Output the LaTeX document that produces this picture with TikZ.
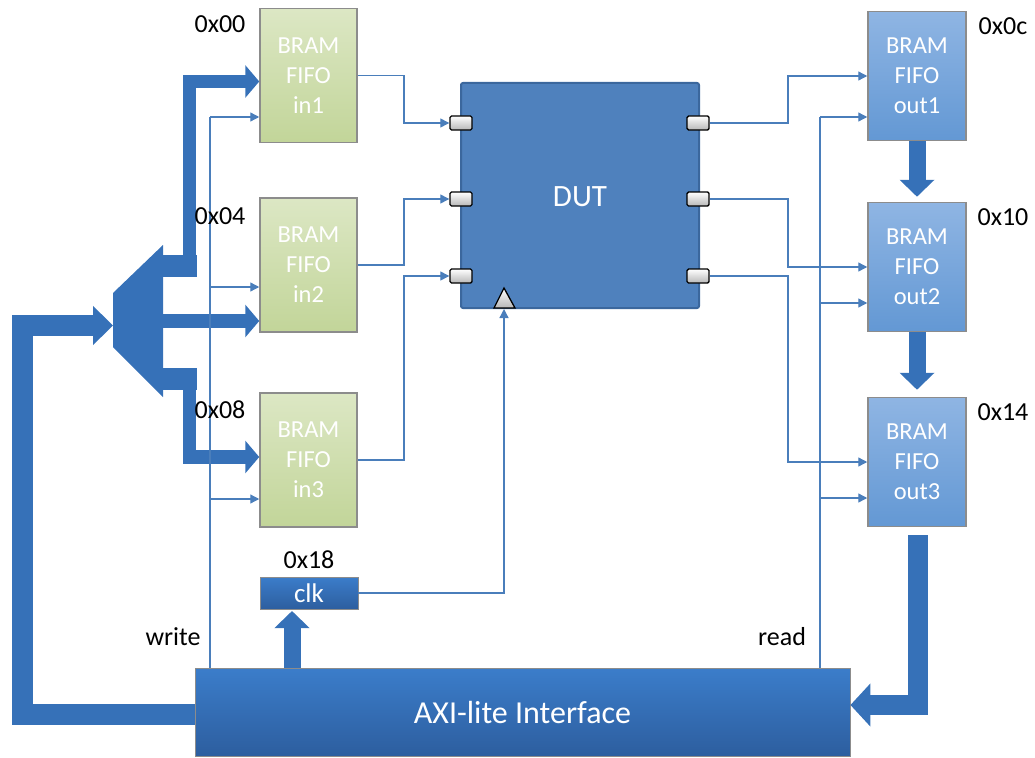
\documentclass[tikz,border=0pt]{standalone}
\usepackage{fontspec}
\setmainfont{Carlito}
\usetikzlibrary{arrows.meta,calc}
\definecolor{thinblue}{HTML}{4A7EBB}
\definecolor{thickblue}{HTML}{3671B8}
\definecolor{dutblue}{HTML}{4F81BD}
\definecolor{dutedge}{HTML}{3B679D}
\definecolor{greentop}{HTML}{DCE7C4}
\definecolor{greenbot}{HTML}{C2D599}
\definecolor{outtop}{HTML}{8FB5E3}
\definecolor{outbot}{HTML}{6398D4}
\definecolor{axitop}{HTML}{3B7DCA}
\definecolor{axibot}{HTML}{2D5E9F}
\definecolor{boxgray}{HTML}{8C8C8C}
\begin{document}
\begin{tikzpicture}[x=1pt,y=-1pt,
  fifoin/.style={draw=boxgray, line width=1.5pt, top color=greentop, bottom color=greenbot,
    minimum width=97pt, minimum height=134pt, inner sep=0pt, text=white, align=center,
    font=\fontsize{24.5}{30}\selectfont},
  fifoout/.style={draw=boxgray, line width=1.5pt, top color=outtop, bottom color=outbot,
    minimum width=98pt, minimum height=129pt, inner sep=0pt, text=white, align=center,
    font=\fontsize{24.5}{30}\selectfont},
  port/.style={draw=black, line width=1.4pt, top color=white, bottom color=black!28,
    minimum width=22pt, minimum height=14pt, inner sep=0pt, rounded corners=1.5pt},
  addr/.style={font=\fontsize{26}{30}\selectfont, text=black, inner sep=0pt},
  thinline/.style={draw=thinblue, line width=1.3pt},
  thinarr/.style={thinline, -{Triangle[length=9pt,width=9pt]}},
  thickarr/.style={draw=thickblue, line width=13.5pt, line join=miter,
    -{Triangle[length=14pt,width=32pt]}},
  fatarr/.style={draw=thickblue, line width=21pt, line join=miter,
    -{Triangle[length=20pt,width=38pt]}},
  vertarr/.style={draw=thickblue, line width=17pt, -{Triangle[length=17pt,width=34pt]}},
]
\useasboundingbox (0,0) rectangle (1035,757);

% boxes
\node[fifoin] (in1) at (308.5,75.5) {BRAM\\FIFO\\in1};
\node[fifoin] (in2) at (308.5,265) {BRAM\\FIFO\\in2};
\node[fifoin] (in3) at (308.5,460) {BRAM\\FIFO\\in3};
\node[fifoout] (out1) at (917,76) {BRAM\\FIFO\\out1};
\node[fifoout] (out2) at (917,267) {BRAM\\FIFO\\out2};
\node[fifoout] (out3) at (917,462) {BRAM\\FIFO\\out3};
\node[draw=dutedge, line width=2pt, fill=dutblue, rounded corners=2pt,
  minimum width=238pt, minimum height=225pt, inner sep=0pt] (dut) at (580,195.5) {};
\node[text=white, font=\fontsize{31}{34}\selectfont, inner sep=0pt] (duttext) at (580,197) {DUT};
\node[top color=axitop, bottom color=axibot, draw=boxgray, line width=0.8pt,
  minimum width=98pt, minimum height=32pt, inner sep=0pt, text=white,
  font=\fontsize{27}{30}\selectfont] (clk) at (309,593) {clk};
\node[top color=axitop, bottom color=axibot, draw=boxgray, line width=0.8pt,
  minimum width=655pt, minimum height=88pt, inner sep=0pt, text=white,
  font=\fontsize{32}{36}\selectfont] (axi) at (522.5,712) {AXI-lite Interface};

% mux
\fill[thickblue] (113,293) -- (163,245) -- (163,397) -- (113,347) -- cycle;
\fill[thickblue] (162,255) rectangle (197,277);
\fill[thickblue] (162,368) rectangle (197,390);

% thick arrows
\draw[thickarr] (189.5,270) -- (189.5,81.5) -- (in1.west |- 0,81.5);
\draw[thickarr] (162,321) -- (in2.west |- 0,321);
\draw[thickarr] (189.5,375) -- (189.5,457) -- (in3.west |- 0,457);
\draw[fatarr] (axi.west |- 0,714) -- (22,714) -- (22,325.5) -- (113,325.5);
\draw[vertarr] (axi.north -| 292,0) -- (292,611);
\draw[vertarr, shorten >=5pt] (out1.south) -- (out2.north);
\draw[vertarr, shorten >=7pt] (out2.south) -- (out3.north);
\draw[draw=thickblue, line width=20pt, line join=miter, -{Triangle[length=20pt,width=42pt]}]
  (918,535) -- (918,705) -- (axi.east |- 0,705);

% ports
\node[port] (pL1) at (461,123) {};
\node[port] (pL2) at (461,199) {};
\node[port] (pL3) at (461,276) {};
\node[port] (pR1) at (698,123) {};
\node[port] (pR2) at (698,199) {};
\node[port] (pR3) at (698,276) {};
\draw[draw=black, line width=1.3pt, top color=white, bottom color=black!28]
  (494,308) -- (504,288) -- (515,308) -- cycle;
\coordinate (clkin) at (504,309);

% thin lines: inputs to DUT
\draw[thinarr] (in1.east) -- (404,75.5) |- (pL1.west);
\draw[thinarr] (in2.east) -- (404,265) |- (pL2.west);
\draw[thinarr] (in3.east) -- (404,460) |- (pL3.west);
% DUT to outputs
\draw[thinarr] (pR1.east) -- (788,123) |- (out1.west);
\draw[thinarr] (pR2.east) -- (788,199) |- (out2.west);
\draw[thinarr] (pR3.east) -- (788,276) |- (out3.west);
% clock
\draw[thinarr] (clk.east) -| (clkin);
% write
\coordinate (wtop) at (210,117);
\coordinate (w2) at (210,287);
\coordinate (w3) at (210,499);
\draw[thinline] (axi.north -| wtop) -- (wtop);
\draw[thinarr] (wtop) -- (in1.west |- wtop);
\draw[thinarr] (w2) -- (in2.west |- w2);
\draw[thinarr] (w3) -- (in3.west |- w3);
% read
\coordinate (rtop) at (820,117);
\coordinate (r2) at (820,303);
\coordinate (r3) at (820,498);
\draw[thinline] (axi.north -| rtop) -- (rtop);
\draw[thinarr] (rtop) -- (out1.west |- rtop);
\draw[thinarr] (r2) -- (out2.west |- r2);
\draw[thinarr] (r3) -- (out3.west |- r3);

% labels
\node[addr] (a00) at (220,24) {0x00};
\node[addr] (a04) at (220,216) {0x04};
\node[addr] (a08) at (220,410) {0x08};
\node[addr] (a18) at (309,560) {0x18};
\node[addr] (a0c) at (1003,26) {0x0c};
\node[addr] (a10) at (1003,217) {0x10};
\node[addr] (a14) at (1003,412) {0x14};
\node[addr] (lw) at (173,637) {write};
\node[addr] (lr) at (782,637) {read};
\end{tikzpicture}
\end{document}
